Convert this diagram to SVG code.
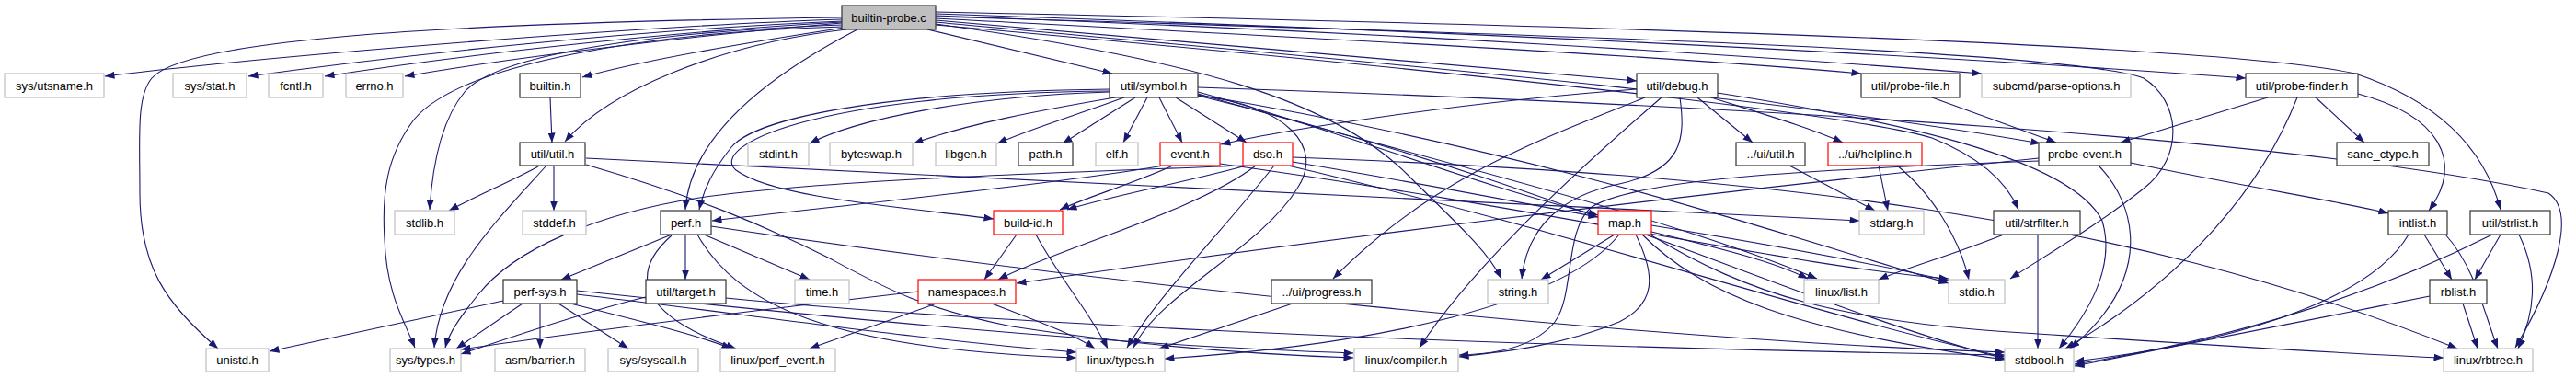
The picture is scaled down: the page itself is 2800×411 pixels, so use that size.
<svg xmlns="http://www.w3.org/2000/svg" width="2800" height="411" viewBox="0 0 2800 411">
<style>
.e{fill:none;stroke:#191970;stroke-width:1.1;marker-end:url(#ah)}
rect{fill:#fff;stroke-width:1.2}
.k rect{stroke:#333}
.g rect{stroke:#bfbfbf}
.r rect{stroke:#ff0000}
.root rect{fill:#bfbfbf;stroke:#333}
text{font-family:"Liberation Sans",Arial,sans-serif;font-size:13px;fill:#000;text-anchor:middle}
</style>
<defs>
<marker id="ah" markerUnits="userSpaceOnUse" markerWidth="11" markerHeight="8" refX="10.5" refY="4" orient="auto">
<path d="M0,0 L10.5,4 L0,8 z" fill="#191970"/>
</marker>
</defs>
<rect x="0" y="0" width="2800" height="411" style="fill:#fff;stroke:none"/>
<g id="edges">
<path class="e" d="M915,21 C700,28 300,60 114,83"/>
<path class="e" d="M915,19 C450,25 200,45 165,85 C148,105 152,150 152,210 C152,290 180,330 237,379"/>
<path class="e" d="M915,23 C700,32 450,58 270,83"/>
<path class="e" d="M915,24 C720,35 500,60 353,83"/>
<path class="e" d="M915,25 C760,38 560,62 440,83"/>
<path class="e" d="M918,30 C820,45 700,65 633,84"/>
<path class="e" d="M920,32 C780,48 660,100 614,154"/>
<path class="e" d="M916,27 C700,35 540,60 505,100 C480,130 470,180 467,228"/>
<path class="e" d="M916,29 C700,35 500,70 450,130 C420,170 415,210 418,260 C420,320 440,350 451,378"/>
<path class="e" d="M932,32 C830,85 750,150 745,228"/>
<path class="e" d="M1008,32 L1209,80"/>
<path class="e" d="M1017,26 C1300,65 1450,110 1530,190 C1580,240 1615,270 1632,303"/>
<path class="e" d="M1017,22 L1779,88"/>
<path class="e" d="M1017,20 C1400,40 1800,60 2023,80"/>
<path class="e" d="M1017,17 C1500,35 1900,60 2154,80"/>
<path class="e" d="M1017,15 C1600,35 2100,60 2441,85"/>
<path class="e" d="M1017,24 C1400,60 1900,100 2218,156"/>
<path class="e" d="M1017,27 C1500,70 2000,120 2100,150 C2150,170 2180,195 2194,228"/>
<path class="e" d="M1017,13 C1600,25 2400,45 2560,80 C2650,110 2700,160 2718,228"/>
<path class="e" d="M1017,18 C1700,38 2250,55 2330,85 C2370,110 2375,170 2330,205 C2280,245 2220,280 2185,303"/>
<path class="e" d="M598,106 L600,155"/>
<path class="e" d="M585,181 C560,195 520,212 488,229"/>
<path class="e" d="M602,181 L602,229"/>
<path class="e" d="M593,181 C540,240 478,300 472,378"/>
<path class="e" d="M637,172 L2021,240"/>
<path class="e" d="M637,179 C760,215 830,245 900,280 C960,312 1000,335 1100,355 C1250,378 1380,386 1471,389"/>
<path class="e" d="M1206,100 C1050,105 930,130 880,156"/>
<path class="e" d="M1212,106 C1130,120 1050,135 993,156"/>
<path class="e" d="M1222,106 C1170,125 1120,140 1084,156"/>
<path class="e" d="M1234,106 L1155,156"/>
<path class="e" d="M1247,106 L1221,155"/>
<path class="e" d="M1260,106 L1285,155"/>
<path class="e" d="M1278,106 L1355,155"/>
<path class="e" d="M1206,97 C950,100 820,130 795,160 C775,185 765,205 760,228"/>
<path class="e" d="M1206,99 C880,102 770,160 800,185 C840,215 980,225 1080,238"/>
<path class="e" d="M1302,100 C1450,140 1600,200 1737,234"/>
<path class="e" d="M1302,102 C1500,160 1800,230 1975,303"/>
<path class="e" d="M1302,95 C1900,115 2500,150 2770,210 C2800,230 2780,300 2734,378"/>
<path class="e" d="M1302,103 C1700,170 1950,260 2118,308"/>
<path class="e" d="M1302,104 C1700,200 1950,330 2179,390"/>
<path class="e" d="M1302,104 C1400,115 1440,160 1410,205 C1370,270 1260,320 1232,378"/>
<path class="e" d="M1779,97 C1600,110 1400,140 1327,157"/>
<path class="e" d="M1845,106 L1905,155"/>
<path class="e" d="M1860,106 C1920,125 1970,140 2003,155"/>
<path class="e" d="M1826,106 C1832,150 1830,185 1760,200 C1700,212 1660,245 1654,303"/>
<path class="e" d="M1806,106 C1720,180 1600,290 1543,378"/>
<path class="e" d="M1788,106 C1680,150 1560,190 1449,303"/>
<path class="e" d="M1867,101 C2050,130 2250,170 2285,240 C2300,290 2270,340 2238,379"/>
<path class="e" d="M1275,180 C1230,200 1180,215 1152,228"/>
<path class="e" d="M1265,180 C1150,200 900,225 774,240"/>
<path class="e" d="M1326,178 C1700,230 1950,290 2118,303"/>
<path class="e" d="M1405,176 C1550,200 1650,220 1737,236"/>
<path class="e" d="M1365,180 C1300,230 1150,270 1085,304"/>
<path class="e" d="M1355,180 C1280,200 1200,215 1160,228"/>
<path class="e" d="M1385,180 C1330,250 1260,320 1225,378"/>
<path class="e" d="M1353,180 C1150,188 900,195 760,215 C650,232 560,270 520,320 C500,345 488,362 484,378"/>
<path class="e" d="M1400,180 C1700,250 2000,350 2179,388"/>
<path class="e" d="M1405,171 C1900,190 2300,230 2671,379"/>
<path class="e" d="M1105,255 L1070,304"/>
<path class="e" d="M1126,255 C1150,300 1185,340 1204,379"/>
<path class="e" d="M998,317 C800,340 600,365 501,380"/>
<path class="e" d="M1018,330 L880,379"/>
<path class="e" d="M1078,330 C1130,350 1170,365 1190,379"/>
<path class="e" d="M730,255 L610,304"/>
<path class="e" d="M745,255 L745,304"/>
<path class="e" d="M765,255 L880,304"/>
<path class="e" d="M773,246 C1200,310 1800,370 2179,383"/>
<path class="e" d="M758,255 C800,330 900,380 1170,389"/>
<path class="e" d="M730,256 C680,300 700,345 800,379"/>
<path class="e" d="M547,327 L293,382"/>
<path class="e" d="M568,330 L496,379"/>
<path class="e" d="M587,330 L587,379"/>
<path class="e" d="M607,330 L683,379"/>
<path class="e" d="M627,320 C800,340 1000,370 1170,383"/>
<path class="e" d="M627,316 C900,345 1200,375 1471,384"/>
<path class="e" d="M620,330 C700,350 760,365 795,379"/>
<path class="e" d="M702,323 C650,335 560,365 501,385"/>
<path class="e" d="M789,324 C1000,345 1500,375 2179,386"/>
<path class="e" d="M1405,330 L1260,379"/>
<path class="e" d="M1945,180 L2038,229"/>
<path class="e" d="M2042,180 L2052,229"/>
<path class="e" d="M2062,180 C2100,210 2130,260 2140,304"/>
<path class="e" d="M1755,255 L1675,304"/>
<path class="e" d="M1778,255 C1800,300 1800,330 1760,350 C1700,375 1640,382 1586,388"/>
<path class="e" d="M1795,252 C1870,270 1930,285 1965,303"/>
<path class="e" d="M1795,256 C1900,320 2000,350 2200,362 C2400,375 2550,385 2656,389"/>
<path class="e" d="M1795,245 C1950,270 2050,290 2118,305"/>
<path class="e" d="M1785,255 C1850,320 1950,360 2179,391"/>
<path class="e" d="M1760,255 C1700,330 1500,375 1266,390"/>
<path class="e" d="M2100,106 L2235,155"/>
<path class="e" d="M2465,106 L2305,155"/>
<path class="e" d="M2497,106 C2460,200 2380,300 2245,379"/>
<path class="e" d="M2517,106 L2570,155"/>
<path class="e" d="M2563,102 C2650,125 2680,175 2640,229"/>
<path class="e" d="M2216,172 C1800,215 1400,265 1105,308"/>
<path class="e" d="M2216,175 C1950,185 1780,195 1730,225 C1700,250 1712,320 1690,350 C1670,375 1630,385 1586,386"/>
<path class="e" d="M2281,180 C2320,220 2345,300 2250,379"/>
<path class="e" d="M2316,177 C2450,205 2550,220 2596,232"/>
<path class="e" d="M2635,255 L2665,304"/>
<path class="e" d="M2658,255 C2690,290 2700,340 2715,379"/>
<path class="e" d="M2618,255 C2580,320 2450,370 2255,393"/>
<path class="e" d="M2718,255 L2690,304"/>
<path class="e" d="M2738,255 C2760,300 2755,340 2737,379"/>
<path class="e" d="M2709,255 C2600,310 2450,365 2255,396"/>
<path class="e" d="M2677,330 L2693,379"/>
<path class="e" d="M2641,322 C2500,350 2350,380 2255,398"/>
<path class="e" d="M2178,255 C2120,278 2070,292 2042,304"/>
<path class="e" d="M2215,255 L2215,379"/>
</g>
<g id="n_builtin_probe_c" class="root"><rect x="915" y="6" width="102" height="26"/><text x="966" y="23.5">builtin-probe.c</text></g>
<g id="n_sys_utsname_h" class="g"><rect x="5" y="80" width="108" height="26"/><text x="59" y="97.5">sys/utsname.h</text></g>
<g id="n_sys_stat_h" class="g"><rect x="188" y="80" width="80" height="26"/><text x="228" y="97.5">sys/stat.h</text></g>
<g id="n_fcntl_h" class="g"><rect x="292" y="80" width="59" height="26"/><text x="321.5" y="97.5">fcntl.h</text></g>
<g id="n_errno_h" class="g"><rect x="376" y="80" width="62" height="26"/><text x="407" y="97.5">errno.h</text></g>
<g id="n_builtin_h" class="k"><rect x="565" y="80" width="66" height="26"/><text x="598" y="97.5">builtin.h</text></g>
<g id="n_util_symbol_h" class="k"><rect x="1206" y="80" width="96" height="26"/><text x="1254" y="97.5">util/symbol.h</text></g>
<g id="n_util_debug_h" class="k"><rect x="1779" y="80" width="88" height="26"/><text x="1823" y="97.5">util/debug.h</text></g>
<g id="n_util_probe_file_h" class="k"><rect x="2023" y="80" width="107" height="26"/><text x="2076.5" y="97.5">util/probe-file.h</text></g>
<g id="n_subcmd_parse_options_h" class="g"><rect x="2154" y="80" width="162" height="26"/><text x="2235" y="97.5">subcmd/parse-options.h</text></g>
<g id="n_util_probe_finder_h" class="k"><rect x="2441" y="80" width="122" height="26"/><text x="2502" y="97.5">util/probe-finder.h</text></g>
<g id="n_util_util_h" class="k"><rect x="565" y="155" width="71" height="25"/><text x="600.5" y="172">util/util.h</text></g>
<g id="n_stdint_h" class="g"><rect x="813" y="155" width="66" height="25"/><text x="846" y="172">stdint.h</text></g>
<g id="n_byteswap_h" class="g"><rect x="902" y="155" width="90" height="25"/><text x="947" y="172">byteswap.h</text></g>
<g id="n_libgen_h" class="g"><rect x="1017" y="155" width="66" height="25"/><text x="1050" y="172">libgen.h</text></g>
<g id="n_path_h" class="k"><rect x="1107" y="155" width="59" height="25"/><text x="1136.5" y="172">path.h</text></g>
<g id="n_elf_h" class="g"><rect x="1191" y="155" width="46" height="25"/><text x="1214" y="172">elf.h</text></g>
<g id="n_event_h" class="r"><rect x="1261" y="155" width="65" height="25"/><text x="1293.5" y="172">event.h</text></g>
<g id="n_dso_h" class="r"><rect x="1351" y="155" width="54" height="25"/><text x="1378" y="172">dso.h</text></g>
<g id="n_ui_util_h" class="k"><rect x="1887" y="155" width="75" height="25"/><text x="1924.5" y="172">../ui/util.h</text></g>
<g id="n_ui_helpline_h" class="r"><rect x="1987" y="155" width="102" height="25"/><text x="2038" y="172">../ui/helpline.h</text></g>
<g id="n_probe_event_h" class="k"><rect x="2216" y="155" width="100" height="25"/><text x="2266" y="172">probe-event.h</text></g>
<g id="n_sane_ctype_h" class="k"><rect x="2540" y="155" width="100" height="25"/><text x="2590" y="172">sane_ctype.h</text></g>
<g id="n_stdlib_h" class="g"><rect x="429" y="229" width="65" height="26"/><text x="461.5" y="246.5">stdlib.h</text></g>
<g id="n_stddef_h" class="g"><rect x="568" y="229" width="69" height="26"/><text x="602.5" y="246.5">stddef.h</text></g>
<g id="n_perf_h" class="k"><rect x="718" y="229" width="55" height="26"/><text x="745.5" y="246.5">perf.h</text></g>
<g id="n_build_id_h" class="r"><rect x="1080" y="229" width="75" height="26"/><text x="1117.5" y="246.5">build-id.h</text></g>
<g id="n_map_h" class="r"><rect x="1737" y="229" width="58" height="26"/><text x="1766" y="246.5">map.h</text></g>
<g id="n_stdarg_h" class="g"><rect x="2021" y="229" width="70" height="26"/><text x="2056" y="246.5">stdarg.h</text></g>
<g id="n_util_strfilter_h" class="k"><rect x="2167" y="229" width="94" height="26"/><text x="2214" y="246.5">util/strfilter.h</text></g>
<g id="n_intlist_h" class="k"><rect x="2596" y="229" width="64" height="26"/><text x="2628" y="246.5">intlist.h</text></g>
<g id="n_util_strlist_h" class="k"><rect x="2685" y="229" width="87" height="26"/><text x="2728.5" y="246.5">util/strlist.h</text></g>
<g id="n_perf_sys_h" class="k"><rect x="547" y="304" width="80" height="26"/><text x="587" y="321.5">perf-sys.h</text></g>
<g id="n_util_target_h" class="k"><rect x="702" y="304" width="87" height="26"/><text x="745.5" y="321.5">util/target.h</text></g>
<g id="n_time_h" class="g"><rect x="864" y="304" width="59" height="26"/><text x="893.5" y="321.5">time.h</text></g>
<g id="n_namespaces_h" class="r"><rect x="998" y="304" width="106" height="26"/><text x="1051" y="321.5">namespaces.h</text></g>
<g id="n_ui_progress_h" class="k"><rect x="1382" y="304" width="109" height="26"/><text x="1436.5" y="321.5">../ui/progress.h</text></g>
<g id="n_string_h" class="g"><rect x="1617" y="304" width="66" height="26"/><text x="1650" y="321.5">string.h</text></g>
<g id="n_linux_list_h" class="g"><rect x="1961" y="304" width="81" height="26"/><text x="2001.5" y="321.5">linux/list.h</text></g>
<g id="n_stdio_h" class="g"><rect x="2118" y="304" width="61" height="26"/><text x="2148.5" y="321.5">stdio.h</text></g>
<g id="n_rblist_h" class="k"><rect x="2641" y="304" width="62" height="26"/><text x="2672" y="321.5">rblist.h</text></g>
<g id="n_unistd_h" class="g"><rect x="224" y="379" width="68" height="25"/><text x="258" y="396">unistd.h</text></g>
<g id="n_sys_types_h" class="g"><rect x="424" y="379" width="77" height="25"/><text x="462.5" y="396">sys/types.h</text></g>
<g id="n_asm_barrier_h" class="g"><rect x="538" y="379" width="98" height="25"/><text x="587" y="396">asm/barrier.h</text></g>
<g id="n_sys_syscall_h" class="g"><rect x="661" y="379" width="98" height="25"/><text x="710" y="396">sys/syscall.h</text></g>
<g id="n_linux_perf_event_h" class="g"><rect x="783" y="379" width="125" height="25"/><text x="845.5" y="396">linux/perf_event.h</text></g>
<g id="n_linux_types_h" class="g"><rect x="1170" y="379" width="96" height="25"/><text x="1218" y="396">linux/types.h</text></g>
<g id="n_linux_compiler_h" class="g"><rect x="1472" y="379" width="113" height="25"/><text x="1528.5" y="396">linux/compiler.h</text></g>
<g id="n_stdbool_h" class="g"><rect x="2179" y="379" width="75" height="25"/><text x="2216.5" y="396">stdbool.h</text></g>
<g id="n_linux_rbtree_h" class="g"><rect x="2656" y="379" width="97" height="25"/><text x="2704.5" y="396">linux/rbtree.h</text></g>
</svg>
